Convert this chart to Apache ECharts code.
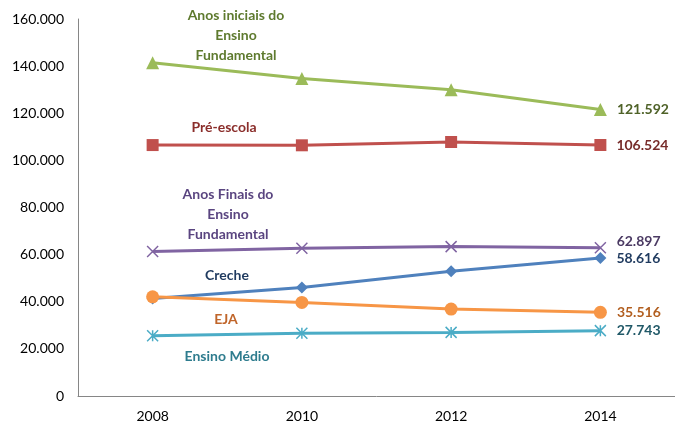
<!DOCTYPE html>
<html>
<head>
<meta charset="utf-8">
<script src="https://cdn.jsdelivr.net/npm/echarts@6/dist/echarts.min.js"></script>
<style>
  html, body { margin: 0; padding: 0; background: #fff; }
  #chart { width: 675px; height: 423px; }
</style>
</head>
<body>
<div id="chart"></div>
<script>
// dados
let anos = ['2008', '2010', '2012', '2014'];
let anosIniciais = [141400, 134700, 130000, 121592];
let preEscola = [106500, 106400, 107800, 106524];
let anosFinais = [61300, 62700, 63400, 62897];
let creche = [41400, 46000, 52900, 58616];
let eja = [42100, 39700, 36900, 35516];
let ensinoMedio = [25600, 26600, 27000, 27743];

function fmt(v) {
    return String(Math.round(v)).replace(/\B(?=(\d{3})+(?!\d))/g, '.');
}

let font = 'Lato, "Open Sans", sans-serif';

function serie(name, data, color, textColor, symbol, size, stroke, dy) {
    return {
        name: name,
        type: 'line',
        data: data,
        symbol: symbol,
        symbolSize: size,
        lineStyle: { color: color, width: 3 },
        itemStyle: stroke
            ? { color: 'transparent', borderColor: color, borderWidth: 1.5 }
            : { color: color, borderWidth: 0 },
        label: {
            show: true,
            position: 'right',
            distance: 10,
            offset: [0, dy || 0],
            fontFamily: font,
            fontWeight: 'bold',
            fontSize: 14,
            color: textColor,
            formatter(p) {
                return p.dataIndex === data.length - 1 ? fmt(p.value) : '';
            }
        },
        animation: false,
        z: 3
    };
}

function rotulo(x, y, text, color) {
    return {
        type: 'text', x: x, y: y,
        style: {
            text: text, fill: color, font: 'bold 14px ' + font,
            textAlign: 'center', textVerticalAlign: 'top', lineHeight: 20
        }
    };
}

let myChart = echarts.init(document.getElementById('chart'));
let option = {
    grid: { left: 78, right: -7, top: 19, bottom: 25 },
    xAxis: {
        type: 'category',
        data: anos,
        boundaryGap: true,
        axisLine: { lineStyle: { color: '#868686', width: 1 } },
        axisTick: { show: false },
        axisLabel: { color: '#000', fontFamily: font, fontSize: 14, margin: 13 }
    },
    yAxis: {
        type: 'value',
        min: 0, max: 160000, interval: 20000,
        axisLine: { show: true, lineStyle: { color: '#868686', width: 1 } },
        axisTick: { show: false },
        splitLine: { show: false },
        axisLabel: { color: '#000', fontFamily: font, fontSize: 14, margin: 14, formatter: fmt }
    },
    graphic: [
        rotulo(236, 5, 'Anos iniciais do\nEnsino\nFundamental', '#5E7A2E'),
        rotulo(224, 117, 'Pré-escola', '#8B2E2B'),
        rotulo(228, 184, 'Anos Finais do\nEnsino\nFundamental', '#5A4580'),
        rotulo(227, 265, 'Creche', '#1F3A5F'),
        rotulo(226, 309, 'EJA', '#C0652A'),
        rotulo(227, 346, 'Ensino Médio', '#2E7C8E')
    ],
    series: [
        serie('Anos iniciais do Ensino Fundamental', anosIniciais, '#9BBB59', '#4F6228', 'triangle', 13),
        serie('Pré-escola', preEscola, '#C0504D', '#772C2A', 'rect', 12),
        serie('Anos Finais do Ensino Fundamental', anosFinais, '#8064A2', '#4B3A63', 'path://M0,0L10,10M10,0L0,10', 11, true, -6),
        serie('Creche', creche, '#4F81BD', '#1F3A5F', 'diamond', 12, false, 1),
        serie('EJA', eja, '#F79646', '#B25F20', 'circle', 13),
        serie('Ensino Médio', ensinoMedio, '#4BACC6', '#215968', 'path://M0,0L10,10M10,0L0,10M5,0L5,10', 11, true)
    ]
};
myChart.setOption(option);
window.onresize = myChart.resize;
</script>
</body>
</html>
